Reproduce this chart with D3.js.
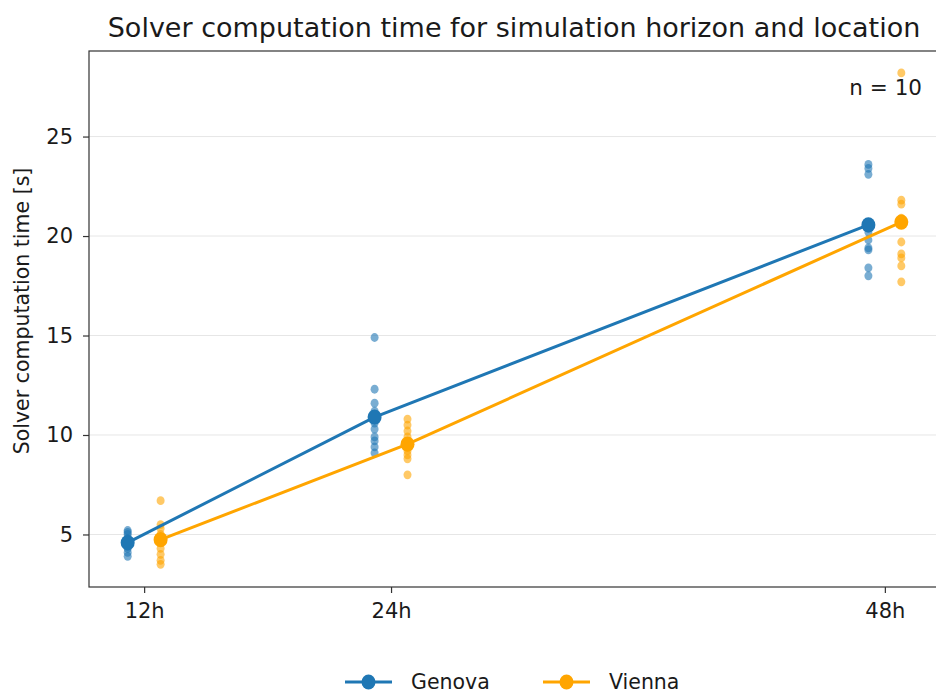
<!DOCTYPE html>
<html>
<head>
<meta charset="utf-8">
<script src="https://cdn.jsdelivr.net/npm/d3@7"></script>
<style>
  body { margin: 0; background: #fff; }
  text { font-family: "DejaVu Sans", sans-serif; fill: #1a1a1a; }
</style>
</head>
<body>
<div id="chart"></div>
<script>
// horizons in hours + tick labels
var horizons = [12, 24, 48];
var horizonLabels = ["12h", "24h", "48h"];
var locations = ["Genova", "Vienna"];
var colors = ["#1f77b4", "#ffa500"];

// solver times per run (s), n = 10 per horizon
var genova12 = [3.9, 4.1, 4.3, 4.4, 4.5, 4.6, 4.8, 5.0, 5.1, 5.2];
var genova24 = [14.9, 12.3, 11.6, 11.2, 10.6, 10.3, 9.9, 9.7, 9.4, 9.1];
var genova48 = [23.6, 23.4, 23.1, 20.4, 20.2, 19.8, 19.4, 19.3, 18.4, 18.0];
var vienna12 = [6.7, 5.5, 5.3, 5.0, 4.8, 4.6, 4.3, 4.0, 3.7, 3.5];
var vienna24 = [10.8, 10.5, 10.2, 9.9, 9.6, 9.4, 9.2, 9.0, 8.8, 8.0];
var vienna48 = [28.2, 21.8, 21.6, 20.9, 20.6, 19.7, 19.1, 18.9, 18.5, 17.7];
var yTicks = [5, 10, 15, 20, 25];

var runs = {
  Genova: [genova12, genova24, genova48],
  Vienna: [vienna12, vienna24, vienna48]
};
var offsets = { Genova: -0.8, Vienna: 0.8 };

var W = 936, H = 693;
var margin = {top: 51, right: -4, bottom: 106, left: 89},
    width = W - margin.left - margin.right,
    height = H - margin.top - margin.bottom;

var svg = d3.select("#chart").append("svg")
    .attr("width", W).attr("height", H)
    .style("overflow", "hidden");

var g = svg.append("g")
    .attr("transform", "translate(" + margin.left + "," + margin.top + ")");

var x = d3.scaleLinear().domain([9.32, 50.68]).range([0, width]);
var y = d3.scaleLinear().domain([2.36, 29.3]).range([height, 0]);

// grid
g.selectAll(".grid").data(yTicks).enter().append("line")
    .attr("x1", 0).attr("x2", width)
    .attr("y1", function(d) { return y(d); })
    .attr("y2", function(d) { return y(d); })
    .attr("stroke", "#e6e6e6").attr("stroke-width", 1);

// scatter of individual runs
locations.forEach(function(loc, li) {
  var pts = [];
  runs[loc].forEach(function(arr, i) {
    arr.forEach(function(v) { pts.push({h: horizons[i] + offsets[loc], v: v}); });
  });
  g.append("g").selectAll("ellipse").data(pts).enter().append("ellipse")
      .attr("cx", function(d) { return x(d.h); })
      .attr("cy", function(d) { return y(d.v); })
      .attr("rx", 4).attr("ry", 4.4)
      .attr("fill", colors[li])
      .attr("fill-opacity", 0.6);
});

// mean lines
locations.forEach(function(loc, li) {
  var means = runs[loc].map(function(arr, i) {
    return {h: horizons[i] + offsets[loc], v: d3.mean(arr)};
  });
  g.append("path").datum(means)
      .attr("fill", "none")
      .attr("stroke", colors[li])
      .attr("stroke-width", 3)
      .attr("d", d3.line().x(function(d) { return x(d.h); }).y(function(d) { return y(d.v); }));
  g.append("g").selectAll("ellipse").data(means).enter().append("ellipse")
      .attr("cx", function(d) { return x(d.h); })
      .attr("cy", function(d) { return y(d.v); })
      .attr("rx", 7).attr("ry", 7.6)
      .attr("fill", colors[li]);
});

// axes
var xAxis = g.append("g")
    .attr("transform", "translate(0," + height + ")")
    .call(d3.axisBottom(x).tickValues(horizons)
      .tickFormat(function(d, i) { return horizonLabels[i]; })
      .tickSize(6).tickPadding(10));
var yAxis = g.append("g")
    .call(d3.axisLeft(y).tickValues(yTicks).tickSize(6).tickPadding(10));

[xAxis, yAxis].forEach(function(a) {
  a.select(".domain").remove();
  a.selectAll("line").attr("stroke", "#333").attr("stroke-width", 1.2);
  a.selectAll("text").style("font-size", "21px").attr("fill", "#1a1a1a");
});

// frame
g.append("rect")
    .attr("x", 0).attr("y", 0).attr("width", width).attr("height", height)
    .attr("fill", "none").attr("stroke", "#333").attr("stroke-width", 1.2);

// title and labels
svg.append("text")
    .attr("x", 514).attr("y", 37)
    .attr("text-anchor", "middle")
    .style("font-size", "27px")
    .text("Solver computation time for simulation horizon and location");

svg.append("text")
    .attr("transform", "translate(29," + (margin.top + height / 2 - 8) + ") rotate(-90)")
    .attr("text-anchor", "middle")
    .style("font-size", "20.5px")
    .text("Solver computation time [s]");

svg.append("text")
    .attr("x", 922).attr("y", 95)
    .attr("text-anchor", "end")
    .style("font-size", "21.5px")
    .text("n = 10");

// legend
var legendX = [345, 543];
locations.forEach(function(loc, li) {
  var lg = svg.append("g").attr("transform", "translate(" + legendX[li] + ",682)");
  lg.append("line").attr("x1", 0).attr("x2", 47).attr("y1", 0).attr("y2", 0)
      .attr("stroke", colors[li]).attr("stroke-width", 3);
  lg.append("ellipse").attr("cx", 23.5).attr("cy", 0).attr("rx", 7).attr("ry", 7.6).attr("fill", colors[li]);
  lg.append("text").attr("x", 66).attr("y", 7)
      .style("font-size", "20.5px").text(loc);
});
</script>
</body>
</html>
